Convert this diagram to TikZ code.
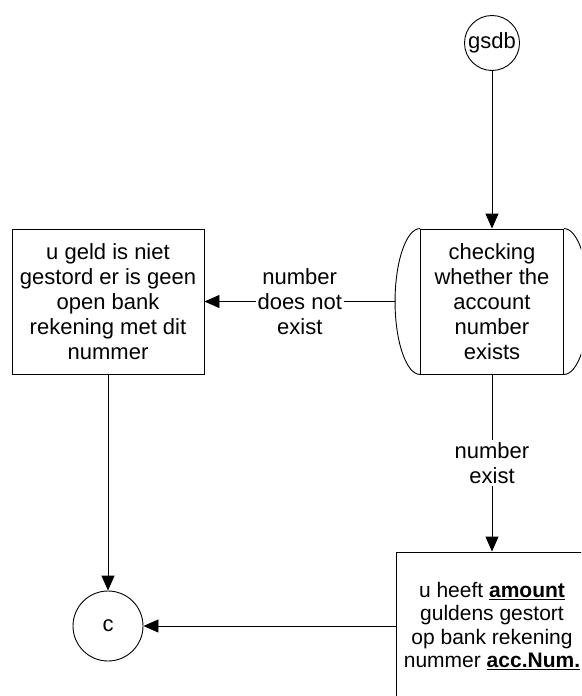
\documentclass[tikz,border=0pt]{standalone}
\usepackage{fontspec}
\setmainfont{Liberation Sans}
\usetikzlibrary{arrows.meta}
\begin{document}
\begin{tikzpicture}[x=1pt,y=-1pt,
  every node/.style={font=\fontsize{22}{25}\selectfont, align=center},
  box/.style={draw, line width=0.9pt, minimum height=145pt, inner sep=0pt},
  term/.style={draw, circle, line width=0.9pt, inner sep=0pt},
  flow/.style={line width=0.9pt, -{Triangle[length=15pt,width=13pt]}},
  lbl/.style={fill=white, inner sep=2pt}]
\clip (0,0) rectangle (581,696);

% terminators
\node[term, minimum size=55pt] (gsdb) at (492,43) {gsdb};
\node[term, minimum size=70pt] (c) at (108,626) {c};

% check step with curved side brackets
\node[box, minimum width=143pt] (chk) at (492,301.5)
  {checking\\whether the\\account\\number\\exists};
\draw[line width=0.9pt] (chk.north west) .. controls +(-13.8,0) and +(0,-40) ..
  ([xshift=-25pt]chk.west) coordinate (chkL) .. controls +(0,40) and +(-13.8,0) .. (chk.south west);
\draw[line width=0.9pt] (chk.north east) .. controls +(13.8,0) and +(0,-40) ..
  ([xshift=25pt]chk.east) .. controls +(0,40) and +(13.8,0) .. (chk.south east);

% outcome boxes
\node[box, minimum width=192pt] (nf) at (108,301.5)
  {u geld is niet\\gestord er is geen\\open bank\\rekening met dit\\nummer};
\node[box, minimum width=192pt, minimum height=148pt,
      font=\fontsize{21}{23.5}\selectfont] (ok) at (492,626)
  {u heeft \underline{\textbf{amount}}\\guldens gestort\\op bank rekening\\nummer \underline{\textbf{acc.Num.}}};

% connectors
\draw[flow] (gsdb) -- (chk);
\draw[flow] (chkL) -- node[lbl] (lno) {number\\does not\\exist} (nf);
\draw[flow] (chk) -- node[lbl] (lyes) {number\\exist} (ok);
\draw[flow] (nf) -- (c);
\draw[flow] (ok) -- (c);
\end{tikzpicture}
\end{document}
